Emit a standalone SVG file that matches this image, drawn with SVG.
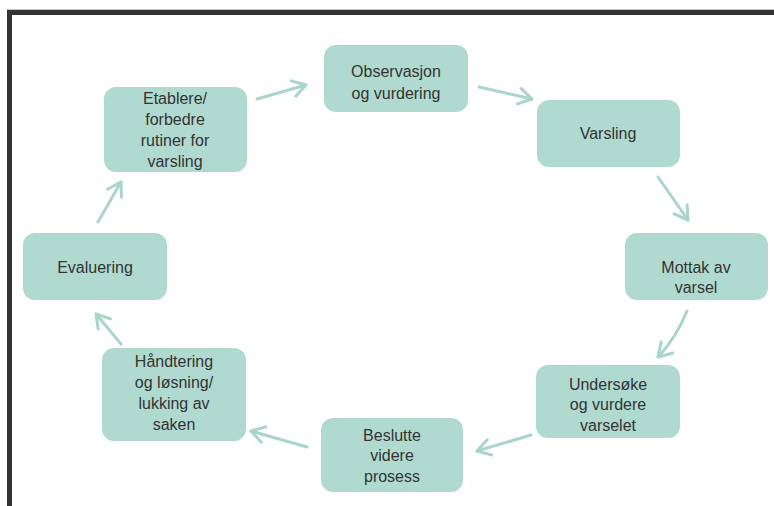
<svg xmlns="http://www.w3.org/2000/svg" width="774" height="506" viewBox="0 0 774 506">
<defs>
<style>
.node rect{fill:#b0dacf;}
.node text{font-family:"Liberation Sans",Arial,sans-serif;font-size:16px;fill:#333;text-anchor:middle;}
.conn path{fill:none;stroke:#a9d6ca;stroke-width:3;stroke-linecap:round;}
</style>
<marker id="ah" markerUnits="userSpaceOnUse" markerWidth="24" markerHeight="24" viewBox="-16 -12 20 24" refX="0" refY="0" orient="auto">
<path d="M-13,-8 L0,0 L-13,8" fill="none" stroke="#a9d6ca" stroke-width="3" stroke-linecap="round" stroke-linejoin="round"/>
</marker>
</defs>
<rect x="0" y="0" width="774" height="506" fill="#fff"/>
<rect x="7" y="9" width="767" height="1" fill="#c8c8c8"/>
<rect x="7" y="10" width="767" height="5" fill="#333"/>
<rect x="7" y="10" width="5" height="496" fill="#333"/>

<g id="node-observasjon" class="node">
<rect x="324" y="45" width="144" height="67" rx="12"/>
<text x="396" y="77">Observasjon</text>
<text x="396" y="99">og vurdering</text>
</g>
<g id="node-varsling" class="node">
<rect x="537" y="100" width="143" height="67" rx="12"/>
<text x="608" y="139">Varsling</text>
</g>
<g id="node-mottak" class="node">
<rect x="625" y="233" width="143" height="67" rx="12"/>
<text x="696" y="273">Mottak av</text>
<text x="696" y="293">varsel</text>
</g>
<g id="node-undersoke" class="node">
<rect x="536" y="365" width="144" height="73" rx="12"/>
<text x="608" y="390">Undersøke</text>
<text x="608" y="410">og vurdere</text>
<text x="608" y="431">varselet</text>
</g>
<g id="node-beslutte" class="node">
<rect x="321" y="418" width="142" height="74" rx="12"/>
<text x="392" y="441">Beslutte</text>
<text x="392" y="461">videre</text>
<text x="392" y="482">prosess</text>
</g>
<g id="node-handtering" class="node">
<rect x="102" y="348" width="144" height="93" rx="12"/>
<text x="174" y="367">Håndtering</text>
<text x="174" y="388">og løsning/</text>
<text x="174" y="409">lukking av</text>
<text x="174" y="430">saken</text>
</g>
<g id="node-evaluering" class="node">
<rect x="23" y="233" width="144" height="67" rx="12"/>
<text x="95" y="273">Evaluering</text>
</g>
<g id="node-etablere" class="node">
<rect x="104" y="87" width="143" height="85" rx="12"/>
<text x="175" y="104">Etablere/</text>
<text x="175" y="125">forbedre</text>
<text x="175" y="146">rutiner for</text>
<text x="175" y="167">varsling</text>
</g>

<g id="connectors" class="conn">
<path d="M257,99 L306,85" marker-end="url(#ah)"/>
<path d="M479,87 L532,99" marker-end="url(#ah)"/>
<path d="M658,177 L688,220" marker-end="url(#ah)"/>
<path d="M687,311 Q676,338 658,357" marker-end="url(#ah)"/>
<path d="M531,435 L477,451" marker-end="url(#ah)"/>
<path d="M307,447 L251,431" marker-end="url(#ah)"/>
<path d="M121,344 L96,314" marker-end="url(#ah)"/>
<path d="M98,222 L121,182" marker-end="url(#ah)"/>
</g>
</svg>
